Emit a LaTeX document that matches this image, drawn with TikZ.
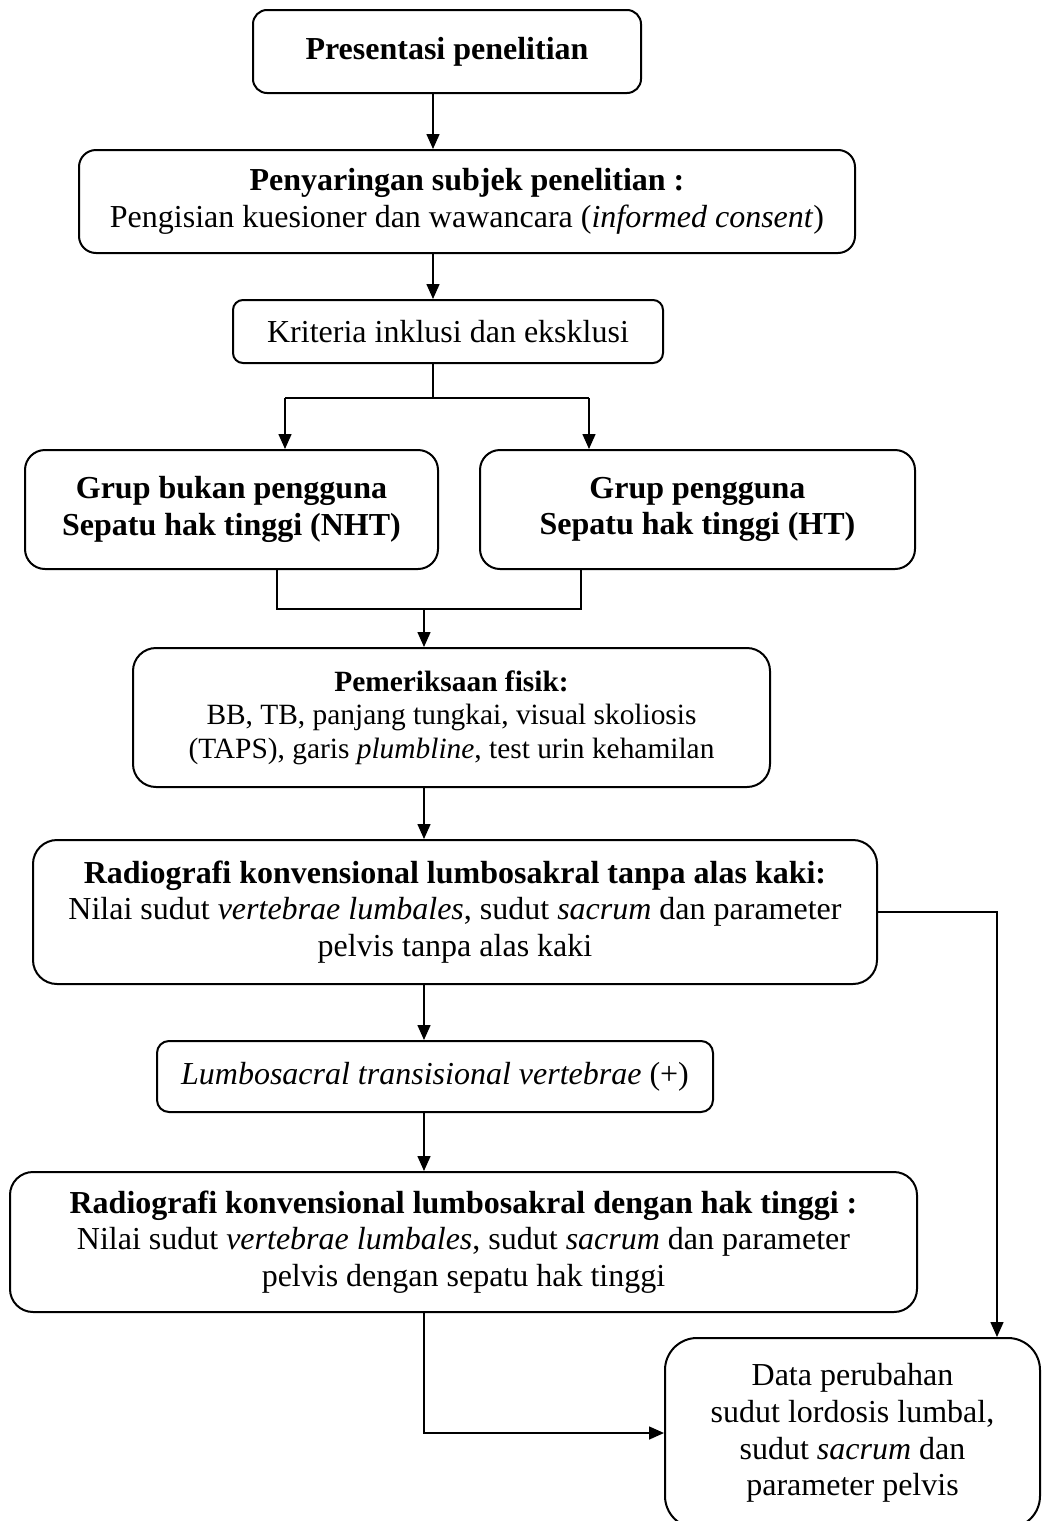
\documentclass[tikz,border=0pt]{standalone}
\usepackage{fontspec}
\setmainfont{Liberation Serif}
\usetikzlibrary{arrows.meta}

\begin{document}
\begin{tikzpicture}[x=0.5pt,y=-0.5pt,line width=0.75pt,
  box/.style={rectangle,draw,line width=1pt,rounded corners=#1,align=center,
    font=\fontsize{16pt}{18.4pt}\selectfont},
  box/.default=10pt,
  arr/.style={-{Triangle[length=7.5pt,width=6.5pt]}}]
\useasboundingbox (0,0) rectangle (1042,1521);
\clip (0,0) rectangle (1042,1521);

\node [box=7pt,minimum width=194pt,minimum height=41.5pt] (pres) at (447,51.5)
  {\raisebox{3.25pt}{\textbf{Presentasi penelitian}}};
\node [box=8.5pt,minimum width=388pt,minimum height=51.5pt] (saring) at (467,201.5)
  {\textbf{Penyaringan subjek penelitian :}\\Pengisian kuesioner dan wawancara (\textit{informed consent})};
\node [box=5pt,minimum width=215pt,minimum height=31.5pt] (krit) at (448,331.5)
  {Kriteria inklusi dan eksklusi};
\node [box=10pt,minimum width=206.5pt,minimum height=59.5pt] (nht) at (231.5,509.5)
  {\textbf{Grup bukan pengguna}\\\textbf{Sepatu hak tinggi (NHT)}};
\node [box=10pt,minimum width=217.5pt,minimum height=59.5pt] (ht) at (697.5,509.5)
  {\textbf{Grup pengguna}\\\textbf{Sepatu hak tinggi (HT)}};
\node [box=11.5pt,minimum width=318.5pt,minimum height=69.5pt,
  font=\fontsize{14.7pt}{16.8pt}\selectfont] (fisik) at (451.5,717.5)
  {\textbf{Pemeriksaan fisik:}\\BB, TB, panjang tungkai, visual skoliosis\\(TAPS), garis \textit{plumbline}, test urin kehamilan};
\node [box=12pt,minimum width=422pt,minimum height=72pt] (tanpa) at (455,912)
  {\textbf{Radiografi konvensional lumbosakral tanpa alas kaki:}\\Nilai sudut \textit{vertebrae lumbales}, sudut \textit{sacrum} dan parameter\\pelvis tanpa alas kaki};
\node [box=6pt,minimum width=278pt,minimum height=35.5pt] (ltv) at (435,1076.5)
  {\textit{Lumbosacral transisional vertebrae} (+)};
\node [box=11.5pt,minimum width=453.5pt,minimum height=70pt] (dengan) at (463.5,1242)
  {\textbf{Radiografi konvensional lumbosakral dengan hak tinggi :}\\Nilai sudut \textit{vertebrae lumbales}, sudut \textit{sacrum} dan parameter\\pelvis dengan sepatu hak tinggi};
\node [box=16pt,minimum width=187.5pt,minimum height=95pt] (data) at (852.5,1433)
  {Data perubahan\\sudut lordosis lumbal,\\sudut \textit{sacrum} dan\\parameter pelvis};

\coordinate (cA) at (433,0);
\coordinate (cB) at (424,0);
\coordinate (cR) at (997,0);
\coordinate (sl) at (285,398);
\coordinate (sr) at (589,398);
\coordinate (jl) at (277,609);
\coordinate (jr) at (581,609);

\draw [arr] (pres.south -| cA) -- (saring.north -| cA);
\draw [arr] (saring.south -| cA) -- (krit.north -| cA);
\draw (krit.south -| cA) -- (sl -| cA);
\draw (sl) -- (sr);
\draw [arr] (sl) -- (nht.north -| sl);
\draw [arr] (sr) -- (ht.north -| sr);
\draw (nht.south -| jl) -- (jl) -- (jr) -- (ht.south -| jr);
\draw [arr] (jl -| cB) -- (fisik.north -| cB);
\draw [arr] (fisik.south -| cB) -- (tanpa.north -| cB);
\draw [arr] (tanpa.south -| cB) -- (ltv.north -| cB);
\draw [arr] (ltv.south -| cB) -- (dengan.north -| cB);
\draw [arr] (tanpa.east) -| (data.north -| cR);
\draw [arr] (dengan.south -| cB) |- (data.west);
\end{tikzpicture}
\end{document}
